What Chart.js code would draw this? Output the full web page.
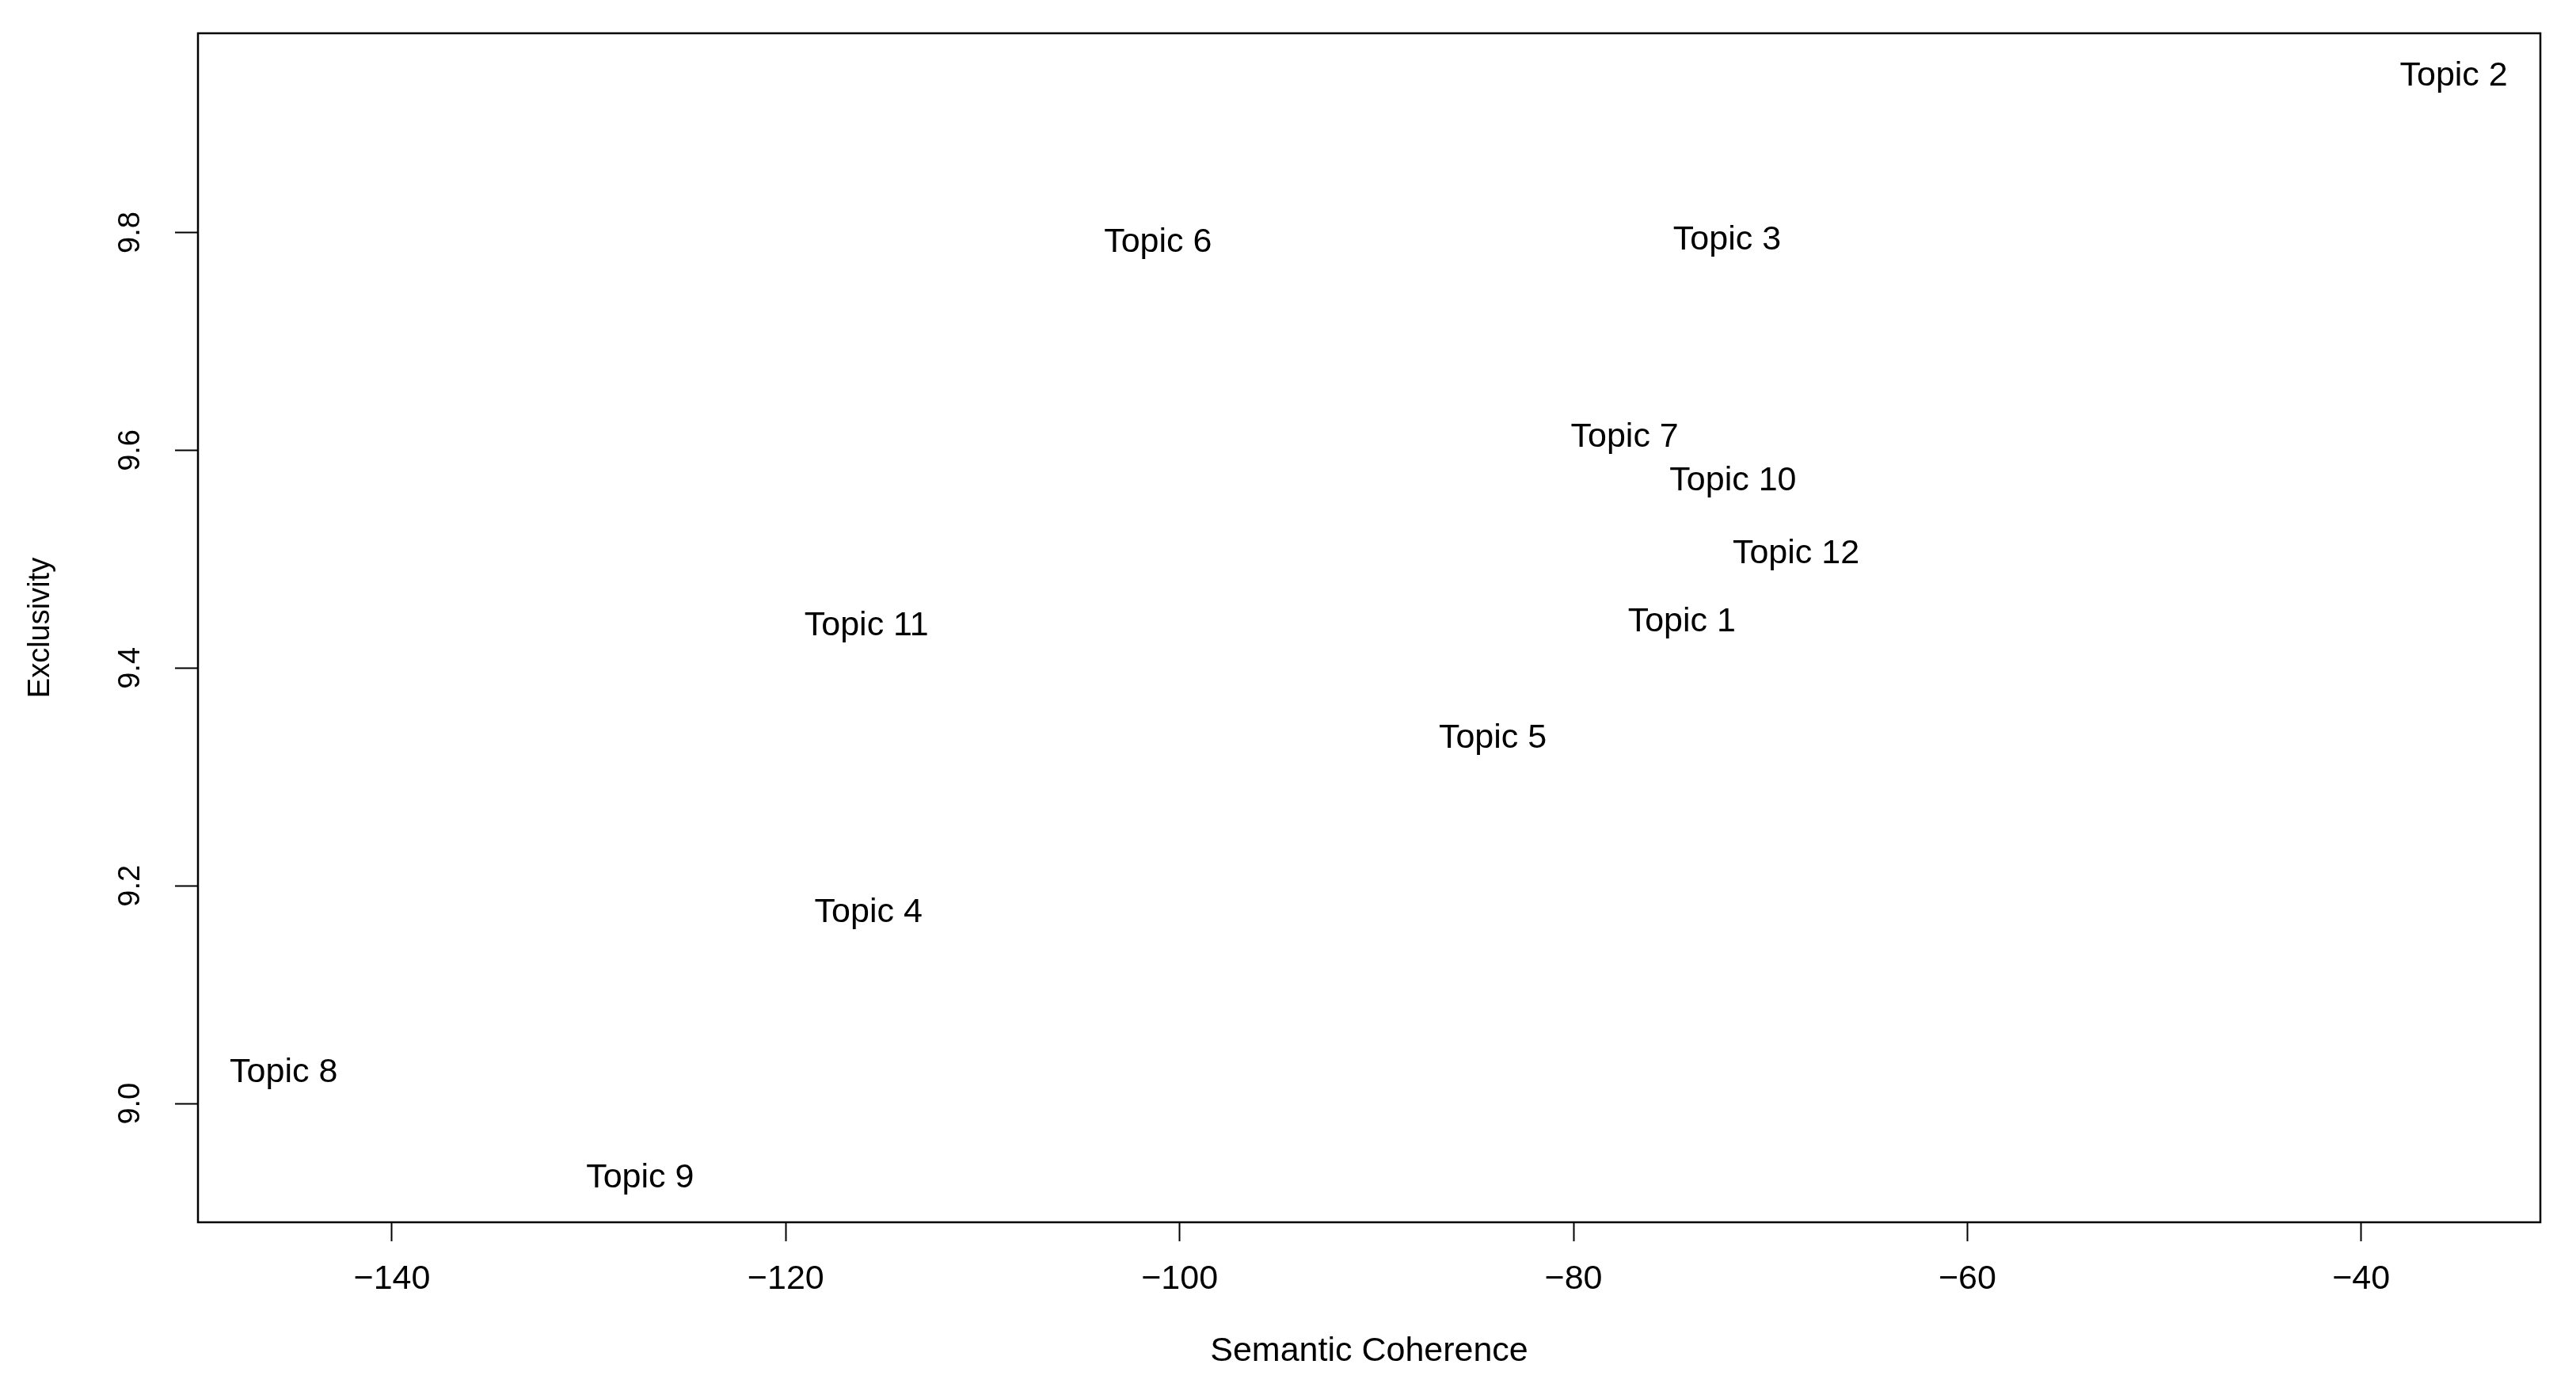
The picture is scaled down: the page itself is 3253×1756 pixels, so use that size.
<!DOCTYPE html>
<html>
<head>
<meta charset="utf-8">
<script src="https://cdn.jsdelivr.net/npm/chart.js@4.4.1/dist/chart.umd.min.js"></script>
<style>
  html, body { margin: 0; padding: 0; background: #fff; }
  #wrap { width: 3253px; height: 1756px; }
</style>
</head>
<body>
<div id="wrap"><canvas id="chart" width="3253" height="1756"></canvas></div>
<script>
// topic quality: semantic coherence vs exclusivity
const topics = ['Topic 1', 'Topic 2', 'Topic 3', 'Topic 4', 'Topic 5', 'Topic 6',
                'Topic 7', 'Topic 8', 'Topic 9', 'Topic 10', 'Topic 11', 'Topic 12'];
const coherence = [-74.5, -35.3, -72.2, -115.8, -84.1, -101.1, -77.4, -145.5, -127.4, -71.9, -115.9, -68.7];
const exclusivity = [9.445, 9.946, 9.795, 9.178, 9.338, 9.793, 9.614, 9.031, 8.934, 9.574, 9.441, 9.507];

const xTicks = [-140, -120, -100, -80, -60, -40];
const xTickLabels = ['\u2212140', '\u2212120', '\u2212100', '\u221280', '\u221260', '\u221240'];
const yTicks = [9.0, 9.2, 9.4, 9.6, 9.8];
const yTickLabels = ['9.0', '9.2', '9.4', '9.6', '9.8'];

const FONT = "'Liberation Sans', Arial, Helvetica, sans-serif";

// draws the topic names centred on each (invisible) point
const textLabels = {
    id: 'textLabels',
    afterDatasetsDraw(chart) {
        const ctx = chart.ctx;
        const meta = chart.getDatasetMeta(0);
        ctx.save();
        ctx.fillStyle = '#000';
        ctx.font = '43px ' + FONT;
        ctx.textAlign = 'center';
        ctx.textBaseline = 'alphabetic';
        meta.data.forEach((pt, i) => {
            ctx.fillText(topics[i], pt.x, pt.y + 15);
        });
        ctx.restore();
    }
};

// box around the plotting region, like R's default bty="o"
const plotBox = {
    id: 'plotBox',
    afterDraw(chart) {
        const {ctx, chartArea: a} = chart;
        ctx.save();
        ctx.strokeStyle = '#000';
        ctx.lineWidth = 2.5;
        ctx.strokeRect(a.left, a.top, a.right - a.left, a.bottom - a.top);
        ctx.restore();
    }
};

const noPad = s => {
    s.paddingTop = 0;
    s.paddingBottom = 0;
    s.paddingLeft = 0;
    s.paddingRight = 0;
};

const points = coherence.map((x, i) => ({x: x, y: exclusivity[i]}));

new Chart(document.getElementById('chart'), {
    type: 'scatter',
    data: {
        datasets: [{
            data: points,
            pointRadius: 0,
            pointHoverRadius: 0,
            showLine: false
        }]
    },
    options: {
        responsive: false,
        animation: false,
        devicePixelRatio: 1,
        events: [],
        layout: { padding: { top: 42, right: 45, left: 0, bottom: 0 } },
        plugins: {
            legend: { display: false },
            tooltip: { enabled: false }
        },
        scales: {
            x: {
                type: 'linear',
                min: -149.85,
                max: -30.9,
                afterFit: s => { s.height = 213; noPad(s); },
                afterBuildTicks: s => { s.ticks = xTicks.map(v => ({value: v})); },
                border: { display: false },
                grid: {
                    drawOnChartArea: false,
                    drawTicks: true,
                    tickLength: 24,
                    tickColor: '#000',
                    tickWidth: 2
                },
                ticks: {
                    color: '#000',
                    font: { family: FONT, size: 43 },
                    padding: 22,
                    maxRotation: 0,
                    autoSkip: false,
                    callback: (v, i) => xTickLabels[i]
                },
                title: {
                    display: true,
                    text: 'Semantic Coherence',
                    color: '#000',
                    font: { family: FONT, size: 43 },
                    padding: { top: 0, bottom: 24 }
                }
            },
            y: {
                type: 'linear',
                min: 8.891,
                max: 9.983,
                afterFit: s => { s.width = 250; noPad(s); },
                afterBuildTicks: s => { s.ticks = yTicks.map(v => ({value: v})); },
                border: { display: false },
                grid: {
                    drawOnChartArea: false,
                    drawTicks: true,
                    tickLength: 29,
                    tickColor: '#000',
                    tickWidth: 2
                },
                ticks: {
                    color: '#000',
                    font: { family: FONT, size: 38 },
                    padding: 29,
                    minRotation: 90,
                    maxRotation: 90,
                    crossAlign: 'center',
                    autoSkip: false,
                    callback: (v, i) => yTickLabels[i]
                },
                title: {
                    display: true,
                    text: 'Exclusivity',
                    color: '#000',
                    font: { family: FONT, size: 38 },
                    padding: { top: 29, bottom: 0 }
                }
            }
        }
    },
    plugins: [textLabels, plotBox]
});
</script>
</body>
</html>
